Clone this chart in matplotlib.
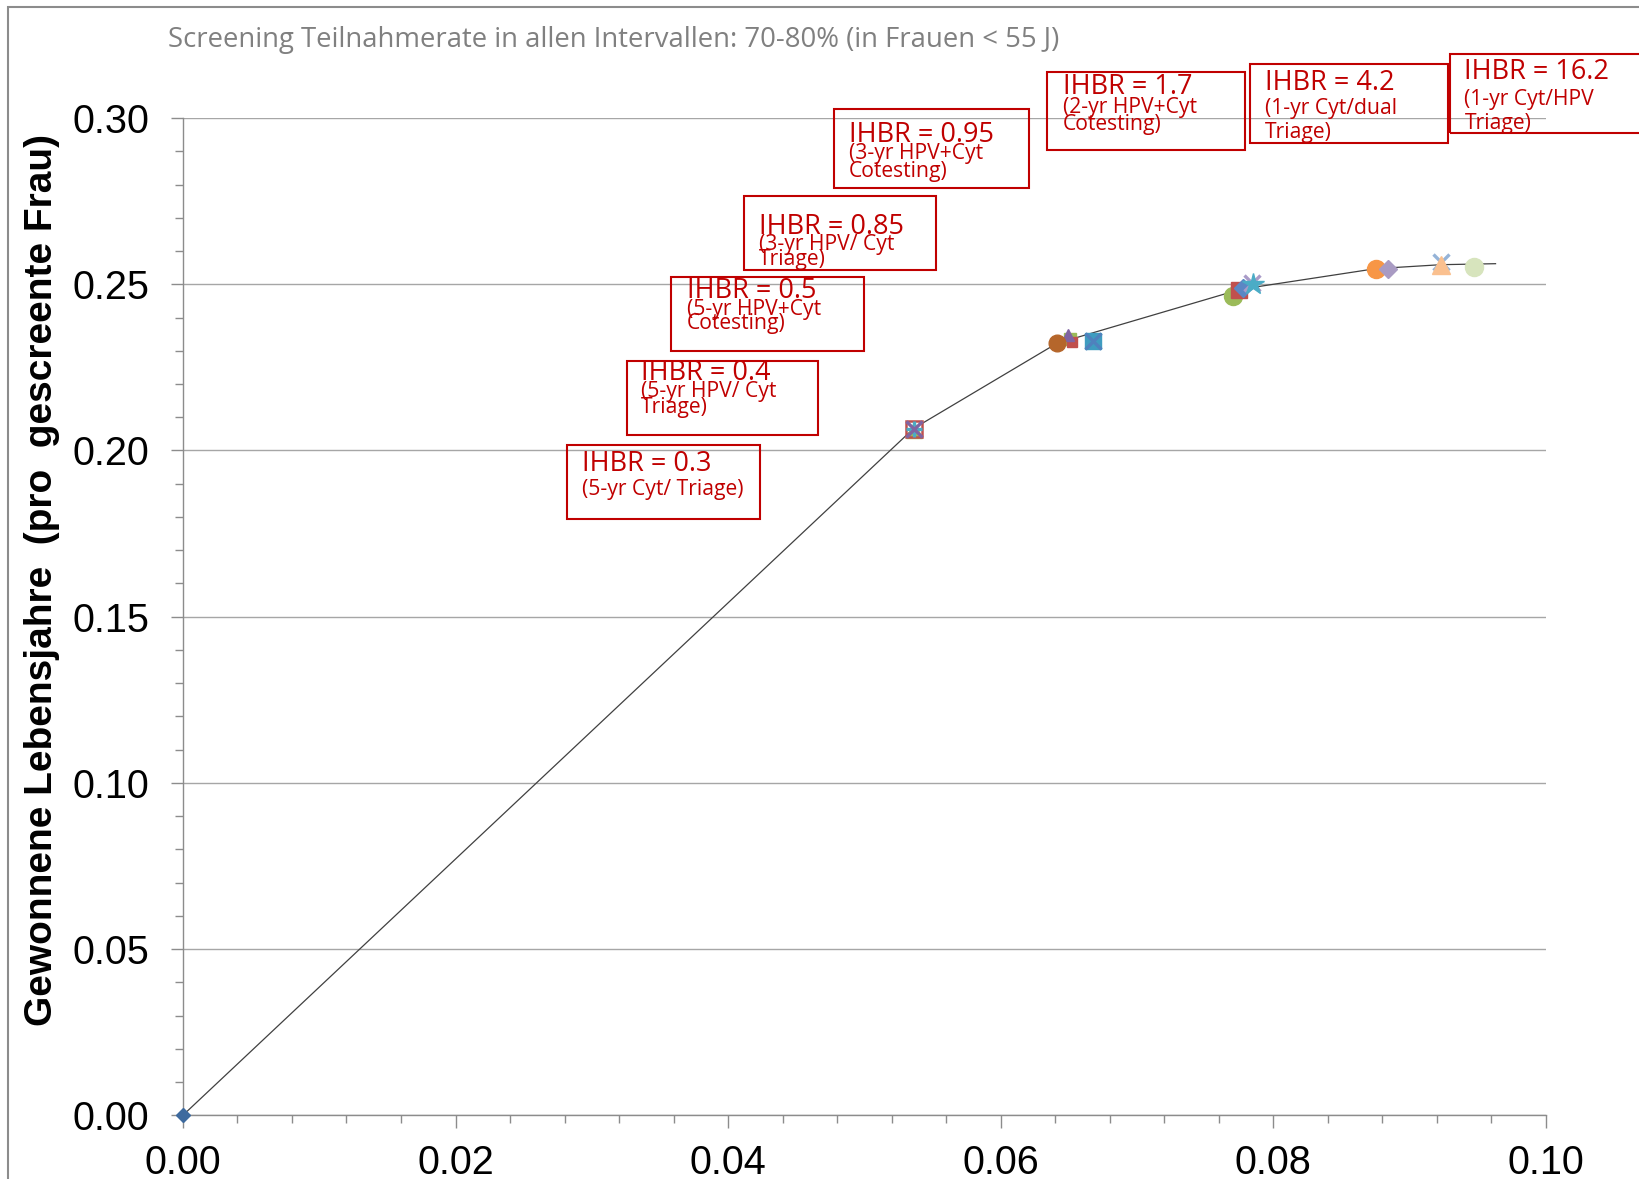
import matplotlib
matplotlib.use('Agg')
import matplotlib.pyplot as plt
import numpy as np
from matplotlib.patches import Rectangle
from matplotlib.ticker import MultipleLocator, FormatStrFormatter

# frontier line (efficient strategies)
frontier_x = [0.0, 0.0536, 0.0641, 0.0776, 0.0875, 0.0923, 0.0963]
frontier_y = [0.0, 0.2066, 0.2322, 0.2485, 0.2547, 0.2559, 0.2562]

# individual strategies (costs vs. life years gained)
pts_x = [0.0,
         0.05365, 0.05363, 0.05365, 0.05363,
         0.06507, 0.06520, 0.06491, 0.06414, 0.06674, 0.06674,
         0.07706, 0.07750, 0.07775, 0.07840, 0.07853,
         0.08750, 0.08843, 0.09228, 0.09228, 0.09472]
pts_y = [0.0,
         0.2061, 0.2066, 0.2066, 0.2066,
         0.2335, 0.2326, 0.2347, 0.2322, 0.2330, 0.2330,
         0.2465, 0.2483, 0.2488, 0.2503, 0.2501,
         0.2545, 0.2545, 0.2568, 0.2558, 0.2551]

# marker styles (marker, face color, size, hollow)
pts_style = [('D', '#3E6A9E', 7, False),
             ('^', '#9BBB59', 11, False), ('s', '#C0504D', 11, True),
             ('+', '#4BACC6', 11, False), ('x', '#8064A2', 11, False),
             ('s', '#9BBB59', 8, False), ('s', '#C0504D', 7, False),
             ('^', '#8064A2', 9, False), ('o', '#B5662B', 12, False),
             ('s', '#3F9CC0', 12, False), ('x', '#4F81BD', 12, False),
             ('o', '#9BBB59', 13, False), ('s', '#C0504D', 11, False),
             ('D', '#5B87C4', 9, False), ('x', '#A99BC8', 12, False),
             ('*', '#4BACC6', 16, False),
             ('o', '#F79646', 13, False), ('D', '#A99BC3', 9, False),
             ('x', '#95B3D7', 12, False), ('^', '#FAC08F', 13, False),
             ('o', '#D7E4BD', 13, False)]

ihbr_head = ['IHBR = 0.3', 'IHBR = 0.4', 'IHBR = 0.5', 'IHBR = 0.85',
             'IHBR = 0.95', 'IHBR = 1.7', 'IHBR = 4.2', 'IHBR = 16.2']
ihbr_sub = [['(5-yr Cyt/ Triage)'],
            ['(5-yr HPV/ Cyt', 'Triage)'],
            ['(5-yr HPV+Cyt', 'Cotesting)'],
            ['(3-yr HPV/ Cyt', 'Triage)'],
            ['(3-yr HPV+Cyt', 'Cotesting)'],
            ['(2-yr HPV+Cyt', 'Cotesting)'],
            ['(1-yr Cyt/dual', 'Triage)'],
            ['(1-yr Cyt/HPV', 'Triage)']]

title = 'Screening Teilnahmerate in allen Intervallen: 70-80% (in Frauen < 55 J)'
ylabel = 'Gewonnene Lebensjahre  (pro  gescreente Frau)'

# layout in reference pixel space
W, H = 1568.0, 1128.0
def fx(x):
    return x / W
def fy(y):
    return 1 - y / H

# box: x0, y0, x1, y1, text x, baselines
boxes = [(542, 426, 727, 497, 557, [451, 473.5]),
         (600, 345, 783, 416, 613, [364, 379.5, 395.5]),
         (642, 265, 827, 336, 657, [285.5, 301.5, 315]),
         (712, 188, 895, 258, 726, [224, 239, 253.5]),
         (798, 104, 984, 180, 812, [135.5, 152.5, 169]),
         (1002, 69, 1191, 143.5, 1017, [89.5, 108, 124]),
         (1196, 61, 1385, 136.5, 1210, [86, 109.5, 132]),
         (1387, 52, 1590, 127, 1401, [76, 100.5, 123])]

plt.rcParams['font.family'] = ['Liberation Sans', 'DejaVu Sans']

fig = plt.figure(figsize=(16.39, 11.79), dpi=100)
ax = fig.add_axes([fx(175), fy(1067), fx(1479) - fx(175), fy(113) - fy(1067)])

ax.plot(frontier_x, frontier_y, color='#404040', lw=0.9, zorder=3)
for x, y, (m, c, s, hollow) in zip(pts_x, pts_y, pts_style):
    if hollow:
        ax.plot(x, y, m, ms=s, mfc='none', mec=c, mew=1.8, zorder=4, clip_on=False)
    elif m in ('x', '+'):
        ax.plot(x, y, m, ms=s, color=c, mew=2.4, zorder=4, clip_on=False)
    else:
        ax.plot(x, y, m, ms=s, color=c, mec=c, zorder=4, clip_on=False)

ax.set_xlim(0, 0.1)
ax.set_ylim(0, 0.3)
ax.xaxis.set_major_locator(MultipleLocator(0.02))
ax.xaxis.set_minor_locator(MultipleLocator(0.004))
ax.yaxis.set_major_locator(MultipleLocator(0.05))
ax.yaxis.set_minor_locator(MultipleLocator(0.01))
ax.xaxis.set_major_formatter(FormatStrFormatter('%.2f'))
ax.yaxis.set_major_formatter(FormatStrFormatter('%.2f'))
ax.grid(axis='y', which='major', color='#A6A6A6', lw=1.0)
ax.set_axisbelow(True)
for side in ['top', 'right']:
    ax.spines[side].set_visible(False)
for side in ['left', 'bottom']:
    ax.spines[side].set_color('#8C8C8C')
    ax.spines[side].set_linewidth(1.0)
ax.tick_params(axis='both', which='major', direction='out', length=9,
               width=1.0, color='#8C8C8C', labelsize=28.5)
ax.tick_params(axis='both', which='minor', direction='out', length=6,
               width=1.0, color='#8C8C8C')
ax.tick_params(axis='x', which='major', pad=12)
ax.tick_params(axis='y', which='major', pad=15)

fig.text(fx(40), fy(555), ylabel, rotation=90, ha='center', va='center',
         fontsize=28, fontweight='bold')
fig.text(fx(161), fy(44.5), title, ha='left', va='baseline',
         fontsize=19.8, color='#808080', family=['Open Sans', 'DejaVu Sans'])

# outer chart frame
fig.add_artist(Rectangle((fx(8), fy(1200)), fx(1700), (1200 - 7) / H,
                         transform=fig.transFigure, fill=False,
                         edgecolor='#8C8C8C', lw=1.5))

red = '#C00000'
for (x0, y0, x1, y1, tx, bl), head, sub in zip(boxes, ihbr_head, ihbr_sub):
    fig.add_artist(Rectangle((fx(x0), fy(y1)), (x1 - x0) / W, (y1 - y0) / H,
                             transform=fig.transFigure, fill=False,
                             edgecolor=red, lw=1.5, zorder=5))
    fig.text(fx(tx), fy(bl[0]), head, ha='left', va='baseline', fontsize=19.5,
             color=red, family=['Open Sans', 'DejaVu Sans'], zorder=6)
    for line, b in zip(sub, bl[1:]):
        fig.text(fx(tx), fy(b), line, ha='left', va='baseline', fontsize=15.2,
                 color=red, family=['Open Sans', 'DejaVu Sans'], zorder=6)

fig.savefig('out.png', dpi=100)
